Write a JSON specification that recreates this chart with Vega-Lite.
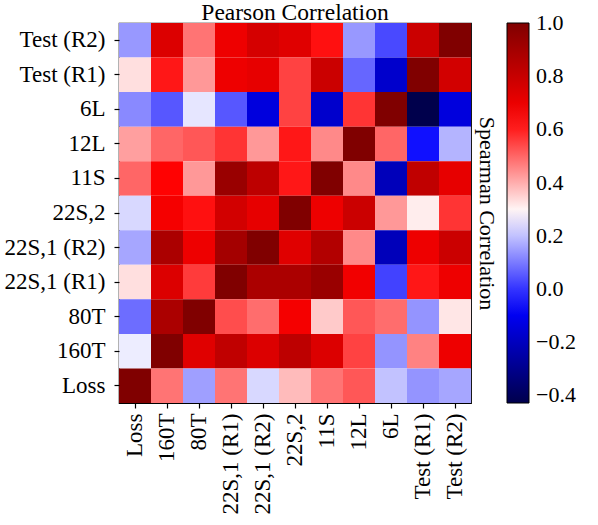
{
  "$schema": "https://vega.github.io/schema/vega-lite/v6.json",
  "width": 352,
  "height": 380,
  "padding": {"left": 4, "top": 0, "right": 5, "bottom": 5},
  "title": {"text": "Pearson Correlation", "font": "Liberation Serif", "fontSize": 23.5, "fontWeight": "normal", "color": "black", "offset": -1},
  "datasets": {
    "m": [
      {"row": "Test (R2)", "col": "Loss", "v": 0.14}, {"row": "Test (R2)", "col": "160T", "v": 0.74}, {"row": "Test (R2)", "col": "80T", "v": 0.48}, {"row": "Test (R2)", "col": "22S,1 (R1)", "v": 0.69}, {"row": "Test (R2)", "col": "22S,1 (R2)", "v": 0.76}, {"row": "Test (R2)", "col": "22S,2", "v": 0.73}, {"row": "Test (R2)", "col": "11S", "v": 0.62}, {"row": "Test (R2)", "col": "12L", "v": 0.14}, {"row": "Test (R2)", "col": "6L", "v": 0.03}, {"row": "Test (R2)", "col": "Test (R1)", "v": 0.79}, {"row": "Test (R2)", "col": "Test (R2)", "v": 1.0},
      {"row": "Test (R1)", "col": "Loss", "v": 0.33}, {"row": "Test (R1)", "col": "160T", "v": 0.61}, {"row": "Test (R1)", "col": "80T", "v": 0.43}, {"row": "Test (R1)", "col": "22S,1 (R1)", "v": 0.69}, {"row": "Test (R1)", "col": "22S,1 (R2)", "v": 0.71}, {"row": "Test (R1)", "col": "22S,2", "v": 0.55}, {"row": "Test (R1)", "col": "11S", "v": 0.79}, {"row": "Test (R1)", "col": "12L", "v": 0.07}, {"row": "Test (R1)", "col": "6L", "v": -0.175}, {"row": "Test (R1)", "col": "Test (R1)", "v": 1.0}, {"row": "Test (R1)", "col": "Test (R2)", "v": 0.77},
      {"row": "6L", "col": "Loss", "v": 0.12}, {"row": "6L", "col": "160T", "v": 0.05}, {"row": "6L", "col": "80T", "v": 0.25}, {"row": "6L", "col": "22S,1 (R1)", "v": 0.05}, {"row": "6L", "col": "22S,1 (R2)", "v": -0.14}, {"row": "6L", "col": "22S,2", "v": 0.55}, {"row": "6L", "col": "11S", "v": -0.175}, {"row": "6L", "col": "12L", "v": 0.57}, {"row": "6L", "col": "6L", "v": 1.0}, {"row": "6L", "col": "Test (R1)", "v": -0.43}, {"row": "6L", "col": "Test (R2)", "v": -0.14},
      {"row": "12L", "col": "Loss", "v": 0.42}, {"row": "12L", "col": "160T", "v": 0.5}, {"row": "12L", "col": "80T", "v": 0.52}, {"row": "12L", "col": "22S,1 (R1)", "v": 0.57}, {"row": "12L", "col": "22S,1 (R2)", "v": 0.43}, {"row": "12L", "col": "22S,2", "v": 0.61}, {"row": "12L", "col": "11S", "v": 0.45}, {"row": "12L", "col": "12L", "v": 1.0}, {"row": "12L", "col": "6L", "v": 0.5}, {"row": "12L", "col": "Test (R1)", "v": -0.05}, {"row": "12L", "col": "Test (R2)", "v": 0.18},
      {"row": "11S", "col": "Loss", "v": 0.5}, {"row": "11S", "col": "160T", "v": 0.64}, {"row": "11S", "col": "80T", "v": 0.43}, {"row": "11S", "col": "22S,1 (R1)", "v": 0.93}, {"row": "11S", "col": "22S,1 (R2)", "v": 0.83}, {"row": "11S", "col": "22S,2", "v": 0.61}, {"row": "11S", "col": "11S", "v": 1.0}, {"row": "11S", "col": "12L", "v": 0.45}, {"row": "11S", "col": "6L", "v": -0.21}, {"row": "11S", "col": "Test (R1)", "v": 0.82}, {"row": "11S", "col": "Test (R2)", "v": 0.71},
      {"row": "22S,2", "col": "Loss", "v": 0.23}, {"row": "22S,2", "col": "160T", "v": 0.67}, {"row": "22S,2", "col": "80T", "v": 0.62}, {"row": "22S,2", "col": "22S,1 (R1)", "v": 0.77}, {"row": "22S,2", "col": "22S,1 (R2)", "v": 0.71}, {"row": "22S,2", "col": "22S,2", "v": 1.0}, {"row": "22S,2", "col": "11S", "v": 0.69}, {"row": "22S,2", "col": "12L", "v": 0.79}, {"row": "22S,2", "col": "6L", "v": 0.43}, {"row": "22S,2", "col": "Test (R1)", "v": 0.31}, {"row": "22S,2", "col": "Test (R2)", "v": 0.57},
      {"row": "22S,1 (R2)", "col": "Loss", "v": 0.16}, {"row": "22S,1 (R2)", "col": "160T", "v": 0.88}, {"row": "22S,1 (R2)", "col": "80T", "v": 0.69}, {"row": "22S,1 (R2)", "col": "22S,1 (R1)", "v": 0.9}, {"row": "22S,1 (R2)", "col": "22S,1 (R2)", "v": 1.0}, {"row": "22S,1 (R2)", "col": "22S,2", "v": 0.73}, {"row": "22S,1 (R2)", "col": "11S", "v": 0.86}, {"row": "22S,1 (R2)", "col": "12L", "v": 0.45}, {"row": "22S,1 (R2)", "col": "6L", "v": -0.21}, {"row": "22S,1 (R2)", "col": "Test (R1)", "v": 0.69}, {"row": "22S,1 (R2)", "col": "Test (R2)", "v": 0.79},
      {"row": "22S,1 (R1)", "col": "Loss", "v": 0.33}, {"row": "22S,1 (R1)", "col": "160T", "v": 0.74}, {"row": "22S,1 (R1)", "col": "80T", "v": 0.56}, {"row": "22S,1 (R1)", "col": "22S,1 (R1)", "v": 1.0}, {"row": "22S,1 (R1)", "col": "22S,1 (R2)", "v": 0.88}, {"row": "22S,1 (R1)", "col": "22S,2", "v": 0.88}, {"row": "22S,1 (R1)", "col": "11S", "v": 0.93}, {"row": "22S,1 (R1)", "col": "12L", "v": 0.68}, {"row": "22S,1 (R1)", "col": "6L", "v": 0.02}, {"row": "22S,1 (R1)", "col": "Test (R1)", "v": 0.61}, {"row": "22S,1 (R1)", "col": "Test (R2)", "v": 0.69},
      {"row": "80T", "col": "Loss", "v": 0.08}, {"row": "80T", "col": "160T", "v": 0.88}, {"row": "80T", "col": "80T", "v": 1.0}, {"row": "80T", "col": "22S,1 (R1)", "v": 0.535}, {"row": "80T", "col": "22S,1 (R2)", "v": 0.49}, {"row": "80T", "col": "22S,2", "v": 0.67}, {"row": "80T", "col": "11S", "v": 0.36}, {"row": "80T", "col": "12L", "v": 0.52}, {"row": "80T", "col": "6L", "v": 0.49}, {"row": "80T", "col": "Test (R1)", "v": 0.135}, {"row": "80T", "col": "Test (R2)", "v": 0.32},
      {"row": "160T", "col": "Loss", "v": 0.26}, {"row": "160T", "col": "160T", "v": 1.0}, {"row": "160T", "col": "80T", "v": 0.73}, {"row": "160T", "col": "22S,1 (R1)", "v": 0.82}, {"row": "160T", "col": "22S,1 (R2)", "v": 0.74}, {"row": "160T", "col": "22S,2", "v": 0.83}, {"row": "160T", "col": "11S", "v": 0.74}, {"row": "160T", "col": "12L", "v": 0.55}, {"row": "160T", "col": "6L", "v": 0.135}, {"row": "160T", "col": "Test (R1)", "v": 0.46}, {"row": "160T", "col": "Test (R2)", "v": 0.69},
      {"row": "Loss", "col": "Loss", "v": 1.0}, {"row": "Loss", "col": "160T", "v": 0.48}, {"row": "Loss", "col": "80T", "v": 0.15}, {"row": "Loss", "col": "22S,1 (R1)", "v": 0.48}, {"row": "Loss", "col": "22S,1 (R2)", "v": 0.23}, {"row": "Loss", "col": "22S,2", "v": 0.38}, {"row": "Loss", "col": "11S", "v": 0.48}, {"row": "Loss", "col": "12L", "v": 0.52}, {"row": "Loss", "col": "6L", "v": 0.2}, {"row": "Loss", "col": "Test (R1)", "v": 0.135}, {"row": "Loss", "col": "Test (R2)", "v": 0.16}
    ]
  },
  "data": {"name": "m"},
  "encoding": {
    "x": {
      "field": "col", "type": "nominal",
      "sort": ["Loss", "160T", "80T", "22S,1 (R1)", "22S,1 (R2)", "22S,2", "11S", "12L", "6L", "Test (R1)", "Test (R2)"],
      "scale": {"paddingInner": 0, "paddingOuter": 0},
      "axis": {"labelAngle": 270, "title": null, "labelPadding": 5},
      "title": null
    }
  },
  "layer": [
    {
      "mark": {"type": "rect"},
      "encoding": {
        "y": {
          "field": "row", "type": "nominal",
          "sort": ["Test (R2)", "Test (R1)", "6L", "12L", "11S", "22S,2", "22S,1 (R2)", "22S,1 (R1)", "80T", "160T", "Loss"],
          "scale": {"paddingInner": 0, "paddingOuter": 0},
          "axis": {"orient": "left", "title": null, "labelPadding": 9}
        },
        "color": {
          "field": "v", "type": "quantitative",
          "scale": {
            "type": "linear",
            "domain": [-0.43, -0.0725, 0.285, 0.6425, 1.001],
            "range": ["#00004c", "#0000ff", "#ffffff", "#ff0000", "#800000"],
            "interpolate": "rgb",
            "nice": false, "zero": false
          },
          "legend": {
            "title": null,
            "direction": "vertical",
            "orient": "right",
            "offset": 10,
            "gradientLength": 380,
            "gradientThickness": 22,
            "gradientStrokeColor": "black",
            "gradientStrokeWidth": 1,
            "values": [-0.4, -0.2, 0, 0.2, 0.4, 0.6, 0.8, 1.0],
            "labelExpr": "replace(format(datum.value, '.1f'), '-', '\u2212')",
            "labelFont": "Liberation Serif",
            "labelFontSize": 22,
            "labelColor": "black",
            "labelOffset": 7
          }
        }
      }
    },
    {
      "mark": {"type": "rect", "opacity": 0},
      "encoding": {
        "y": {
          "field": "row", "type": "nominal",
          "sort": ["Test (R2)", "Test (R1)", "6L", "12L", "11S", "22S,2", "22S,1 (R2)", "22S,1 (R1)", "80T", "160T", "Loss"],
          "scale": {"paddingInner": 0, "paddingOuter": 0},
          "axis": {"orient": "right", "labels": false, "ticks": false, "title": "Spearman Correlation", "titleAngle": 90, "titlePadding": 3, "titleFont": "Liberation Serif", "titleFontSize": 22, "titleFontWeight": "normal", "titleColor": "black"}
        }
      }
    }
  ],
  "resolve": {"axis": {"y": "independent"}},
  "config": {
    "view": {"stroke": "black", "strokeWidth": 1.2},
    "axis": {
      "labelFont": "Liberation Serif",
      "labelFontSize": 23,
      "labelColor": "black",
      "tickColor": "black",
      "tickSize": 5,
      "tickWidth": 1.2,
      "domain": false,
      "grid": false
    }
  }
}
